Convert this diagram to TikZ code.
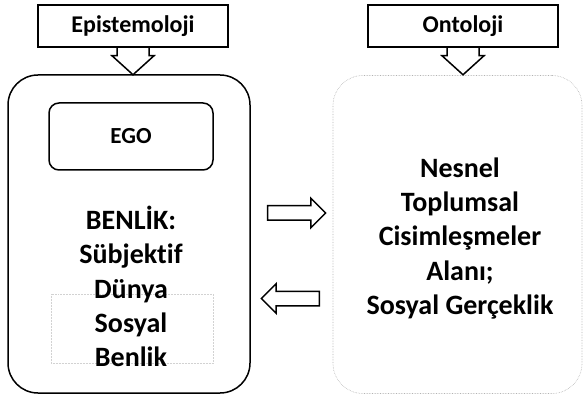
\documentclass[tikz,border=0pt]{standalone}
\usepackage{fontspec}
\setmainfont{Carlito}[Ligatures={NoCommon}]
\usetikzlibrary{positioning,shapes.arrows}
\def\myscale{1}

\begin{document}
\begin{tikzpicture}[x=1pt, y=-1pt, scale=\myscale, line width=1.5pt,
    bigbox/.style={draw, rounded corners=30pt, minimum width=242pt, minimum height=318pt},
    labelbox/.style={draw, minimum width=190pt, minimum height=42pt, font=\fontsize{24}{28}\selectfont\bfseries},
    bigtext/.style={align=center, font=\fontsize{28}{34.3}\selectfont\bfseries},
    blockarrow/.style={draw, single arrow, minimum height=58pt, inner sep=6.5pt, single arrow head extend=7.5pt}]
    \useasboundingbox (0,0) rectangle (585,411);

    % Nodes
    \node (self) at (129,234) [bigbox] {};
    \node (world) at (457.5,234.5) [bigbox, minimum width=249pt, draw=gray!60, line width=0.6pt, densely dotted] {};

    \node (epis) at (133,26) [labelbox] {Epistemoloji};
    \node (onto) at (463,26) [labelbox] {Ontoloji};

    \node (ego) at (131,136.5) [draw, rounded corners=10pt, minimum width=164pt, minimum height=67pt, font=\fontsize{23}{26}\selectfont\bfseries] {EGO};
    \node (sosyal) at (132,328.5) [draw=gray!35, line width=0.5pt, densely dotted, minimum width=162pt, minimum height=69pt] {};

    \node (selftext) at (131,286.5) [bigtext] {BENLİK:\\Sübjektif\\Dünya\\Sosyal\\Benlik};
    \node (worldtext) at (460,238.5) [bigtext] {Nesnel\\Toplumsal\\Cisimleşmeler\\Alanı;\\Sosyal Gerçeklik};

    % Arrows
    \foreach \lbl in {epis,onto}
        \draw[line join=miter] ([xshift=-16pt]\lbl.south) -- ++(0,8) -- ++(-5,0) -- ++(21,19) -- ++(21,-19) -- ++(-5,0) -- ([xshift=16pt]\lbl.south);

    \node (toworld) at (293,213) [blockarrow] {};
    \node (toself) at (294,298.5) [blockarrow, shape border rotate=180] {};
\end{tikzpicture}
\end{document}
